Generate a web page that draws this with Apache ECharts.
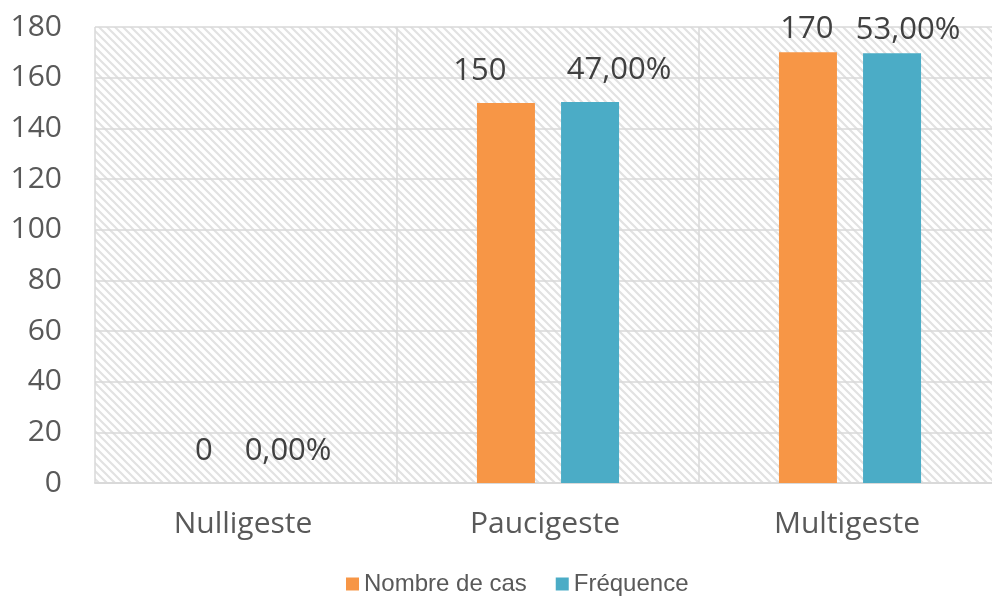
<!DOCTYPE html>
<html>
<head>
<meta charset="utf-8">
<script src="https://cdn.jsdelivr.net/npm/echarts@6/dist/echarts.min.js"></script>
<style>
  html, body { margin: 0; padding: 0; background: #fff; overflow: hidden; }
  /* plot area runs slightly past the right edge of the window */
  #chart { width: 1001px; height: 601px; }
</style>
</head>
<body>
<div id="chart"></div>
<script>
const categories = ['Nulligeste', 'Paucigeste', 'Multigeste'];
const nombreDeCas = [0, 150, 170];
const frequence = [0, 47, 53];          // percent
const totalCas = 320;
const yTicks = { min: 0, max: 180, interval: 20 };

// label nudges [dx, dy] so neighbouring labels don't collide
const casLabelShift = [[0, 0], [-26, 0], [-1, 8]];
const freqLabelShift = [[0, 0], [29, 0], [16, 8]];

// Diagonal hatch tile for the plot background
function hatchTile() {
  const c = document.createElement('canvas');
  c.width = 8; c.height = 8;
  const g = c.getContext('2d');
  g.fillStyle = '#ffffff';
  g.fillRect(0, 0, 8, 8);
  g.strokeStyle = '#e2e2e2';
  g.lineWidth = 2.2;
  g.beginPath();
  g.moveTo(-2, -2); g.lineTo(10, 10);
  g.moveTo(-10, -2); g.lineTo(2, 10);
  g.moveTo(6, -2); g.lineTo(18, 10);
  g.stroke();
  return c;
}

const chart = echarts.init(document.getElementById('chart'), null, { renderer: 'canvas' });

const labelFont = { fontFamily: 'Open Sans', fontSize: 31, color: '#404040' };

function withShift(values, shifts) {
  return values.map((v, i) => ({ value: v, label: { offset: shifts[i] } }));
}

chart.setOption({
  animation: false,
  backgroundColor: '#ffffff',
  grid: {
    show: true,
    left: 95, right: 0, top: 27, bottom: 118,
    backgroundColor: { image: hatchTile(), repeat: 'repeat' },
    borderWidth: 0
  },
  legend: {
    bottom: 0,
    left: 341,
    itemWidth: 13, itemHeight: 13,
    itemGap: 29,
    icon: 'rect',
    textStyle: { fontFamily: 'Liberation Sans', fontSize: 24, color: '#595959' },
    data: ['Nombre de cas', 'Fréquence']
  },
  xAxis: {
    type: 'category',
    data: categories,
    axisLine: { show: true, lineStyle: { color: '#d9d9d9', width: 2 } },
    axisTick: { show: false },
    splitLine: { show: true, lineStyle: { color: '#d9d9d9', width: 1.5 } },
    axisLabel: {
      fontFamily: 'Open Sans', fontSize: 30, color: '#595959', margin: 26,
      padding: [0, 6, 0, 0]
    }
  },
  yAxis: [
    {
      type: 'value',
      min: yTicks.min, max: yTicks.max, interval: yTicks.interval,
      axisLine: { show: false },
      axisTick: { show: false },
      splitLine: { lineStyle: { color: '#d9d9d9', width: 1.5 } },
      axisLabel: { fontFamily: 'Open Sans', fontSize: 30, color: '#595959', margin: 33 }
    },
    {
      // percent scale aligned with the count scale (100% = totalCas)
      type: 'value',
      show: false,
      min: 0, max: yTicks.max / totalCas * 100,
      splitLine: { show: false }
    }
  ],
  series: [
    {
      name: 'Nombre de cas',
      type: 'bar',
      yAxisIndex: 0,
      data: withShift(nombreDeCas, casLabelShift),
      barWidth: 58,
      barGap: '45%',
      itemStyle: { color: '#F79646' },
      label: {
        show: true, position: 'top', distance: 16,
        ...labelFont
      }
    },
    {
      name: 'Fréquence',
      type: 'bar',
      yAxisIndex: 1,
      data: withShift(frequence, freqLabelShift),
      barWidth: 58,
      barGap: '45%',
      itemStyle: { color: '#4BACC6' },
      label: {
        show: true, position: 'top', distance: 16,
        ...labelFont,
        formatter: p => p.value.toFixed(2).replace('.', ',') + '%'
      }
    }
  ]
});
</script>
</body>
</html>
